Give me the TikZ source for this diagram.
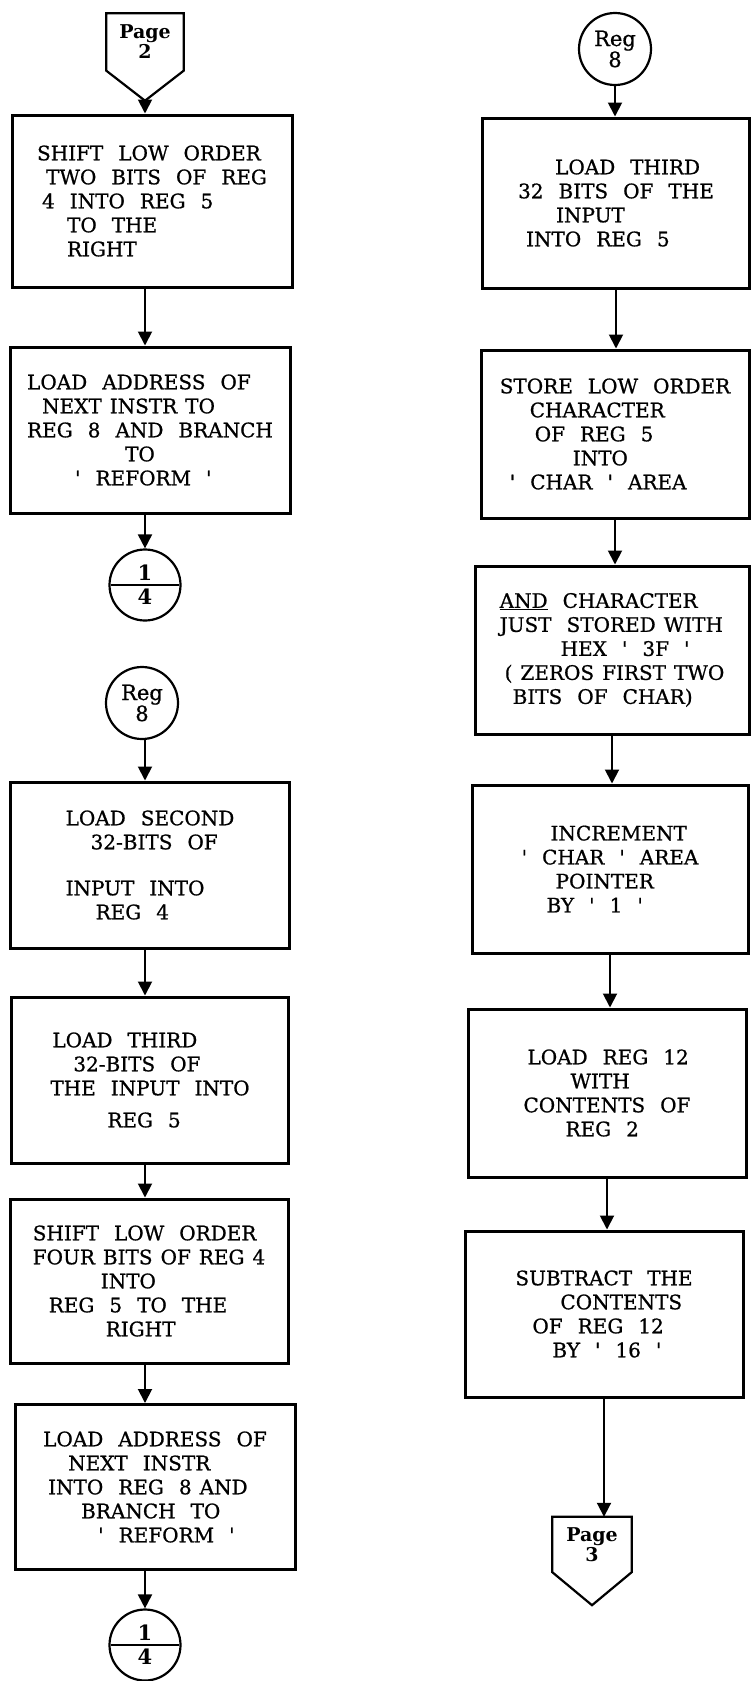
\documentclass[tikz,border=0pt]{standalone}
\usepackage{fontspec}
\setmainfont{DejaVu Serif}
\newfontfamily\scanfont[FakeBold=0.8]{DejaVu Serif}
\usepackage{tikz}
\usetikzlibrary{arrows.meta, positioning, shapes.multipart}
\newcommand{\hq}{\textquotesingle}
\newcommand{\tsp}{\hspace{8pt}}
\tikzset{
  >={Triangle[length=14pt, width=14pt]},
  box/.style={draw, line width=3pt, align=left, inner sep=0pt,
    font=\scanfont\fontsize{20}{24}\selectfont,
    execute at begin node={\spaceskip=15pt plus 2pt minus 2pt\relax}},
  regc/.style={circle, draw, line width=2.2pt, minimum size=72pt, inner sep=0pt,
    align=center, font=\scanfont\fontsize{21}{21}\selectfont},
  splitc/.style={circle split, draw, line width=2.2pt, minimum size=71pt, inner sep=3pt,
    font=\fontsize{21}{22}\bfseries},
  pagebox/.style={align=center, inner sep=0pt, font=\fontsize{19}{20}\bfseries},
  outline/.style={line width=2.2pt, line join=miter},
  flow/.style={->, line width=1.9pt},
}
\begin{document}
\begin{tikzpicture}[x=1pt, y=-1pt]
  \useasboundingbox (0,0) rectangle (751,1681);
  % left column
  \node[pagebox, minimum width=77pt, minimum height=57pt] (p2) at (145,42) {Page\\2};
  \coordinate (p2tip) at ([yshift=-30pt]p2.south);
  \draw[outline] (p2.north west) -- (p2.north east) -- (p2.south east) -- (p2tip) -- (p2.south west) -- cycle;
  \node[box, minimum width=280pt, minimum height=172pt] (b1) at (152,201)
    {SHIFT LOW ORDER\\\hspace*{9pt}TWO BITS OF REG\\\hspace*{5pt}4 INTO REG 5\\\hspace*{30pt}TO THE\\\hspace*{30pt}RIGHT};
  \node[box, minimum width=280pt, minimum height=166pt] (b2) at (150,430)
    {LOAD ADDRESS OF\\\hspace*{15pt}NEXT\tsp INSTR\tsp TO\\REG 8 AND BRANCH\\\hspace*{98pt}TO\\\hspace*{48pt}\hq{} REFORM \hq};
  \node[splitc] (c1) at (145,585) {1\nodepart{lower}4};
  \node[regc] (r8L) at (142,703) {Reg\\8};
  \node[box, minimum width=279pt, minimum height=166pt] (b3) at (150,865)
    {LOAD SECOND\\\hspace*{25pt}32-BITS OF\\[22pt]INPUT INTO\\\hspace*{30pt}REG 4};
  \node[box, minimum width=277pt, minimum height=166pt] (b4) at (150,1080)
    {\hspace*{2pt}LOAD THIRD\\\hspace*{23pt}32-BITS OF\\THE INPUT INTO\\[8pt]\hspace*{57pt}REG 5};
  \node[box, minimum width=278pt, minimum height=164pt] (b5) at (149,1281)
    {SHIFT LOW ORDER\\FOUR\tsp BITS\tsp OF\tsp REG\tsp 4\\\hspace*{68pt}INTO\\\hspace*{16pt}REG 5 TO THE\\\hspace*{73pt}RIGHT};
  \node[box, minimum width=280pt, minimum height=165pt] (b6) at (155,1487)
    {LOAD ADDRESS OF\\\hspace*{25pt}NEXT INSTR\\\hspace*{5pt}INTO REG 8\tsp AND\\\hspace*{38pt}BRANCH TO\\\hspace*{55pt}\hq{} REFORM \hq};
  \node[splitc] (c2) at (145,1645) {1\nodepart{lower}4};
  % right column
  \node[regc] (r8R) at (615,49) {Reg\\8};
  \node[box, minimum width=267pt, minimum height=170pt] (a1) at (616,203)
    {\hspace*{37pt}LOAD THIRD\\32 BITS OF THE\\\hspace*{38pt}INPUT\\\hspace*{8pt}INTO REG 5};
  \node[box, minimum width=268pt, minimum height=168pt] (a2) at (615,434)
    {STORE LOW ORDER\\\hspace*{30pt}CHARACTER\\\hspace*{35pt}OF REG 5\\\hspace*{73pt}INTO\\\hspace*{10pt}\hq{} CHAR \hq{} AREA};
  \node[box, minimum width=274pt, minimum height=168pt] (a3) at (612,650)
    {\underline{AND} CHARACTER\\JUST STORED\tsp WITH\\\hspace*{61pt}HEX \hq{} 3F \hq\\\hspace*{5pt}(\tsp ZEROS\tsp FIRST\tsp TWO\\\hspace*{13pt}BITS OF CHAR)};
  \node[box, minimum width=276pt, minimum height=168pt] (a4) at (610,869)
    {\hspace*{29pt}INCREMENT\\\hq{} CHAR \hq{} AREA\\\hspace*{34pt}POINTER\\\hspace*{25pt}BY \hq{} 1 \hq};
  \node[box, minimum width=278pt, minimum height=168pt] (a5) at (607,1093)
    {\hspace*{4pt}LOAD REG 12\\\hspace*{47pt}WITH\\CONTENTS OF\\\hspace*{42pt}REG 2};
  \node[box, minimum width=278pt, minimum height=166pt] (a6) at (604,1314)
    {SUBTRACT THE\\\hspace*{45pt}CONTENTS\\\hspace*{17pt}OF REG 12\\\hspace*{37pt}BY \hq{} 16 \hq};
  \node[pagebox, minimum width=79pt, minimum height=55pt] (p3) at (592,1544.5) {Page\\3};
  \coordinate (p3tip) at ([yshift=-33pt]p3.south);
  \draw[outline] (p3.north west) -- (p3.north east) -- (p3.south east) -- (p3tip) -- (p3.south west) -- cycle;
  % connectors
  \draw[flow] (p2tip) -- (p2tip |- b1.north);
  \foreach \s/\t in {b1/b2, b2/c1, r8L/b3, b3/b4, b4/b5, b5/b6, b6/c2}
    \draw[flow] (\s.south -| p2tip) -- (p2tip |- \t.north);
  \foreach \s/\t in {r8R/a1, a1/a2, a2/a3, a3/a4, a4/a5, a5/a6, a6/p3}
    \draw[flow] (\s.south) -- (\s.south |- \t.north);
\end{tikzpicture}
\end{document}
